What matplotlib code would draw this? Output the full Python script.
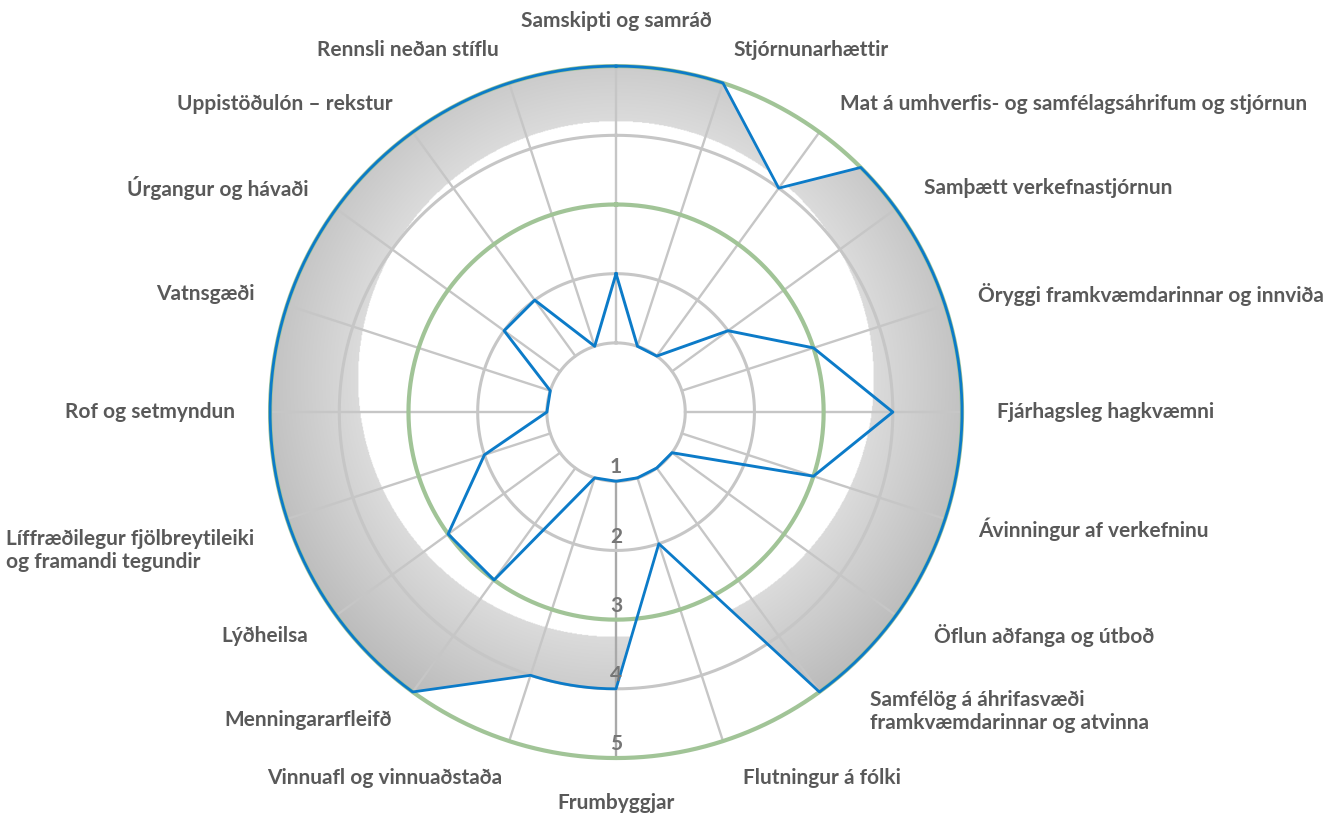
'''
Radar chart of project assessment scores (1-5) with shaded upper band
'''
import numpy as np
import matplotlib
matplotlib.use("Agg")
import matplotlib.pyplot as plt

categories = [
    "Samskipti og samráð",
    "Stjórnunarhættir",
    "Mat á umhverfis- og samfélagsáhrifum og stjórnun",
    "Samþætt verkefnastjórnun",
    "Öryggi framkvæmdarinnar og innviða",
    "Fjárhagsleg hagkvæmni",
    "Ávinningur af verkefninu",
    "Öflun aðfanga og útboð",
    "Samfélög á áhrifasvæði\nframkvæmdarinnar og atvinna",
    "Flutningur á fólki",
    "Frumbyggjar",
    "Vinnuafl og vinnuaðstaða",
    "Menningararfleifð",
    "Lýðheilsa",
    "Líffræðilegur fjölbreytileiki\nog framandi tegundir",
    "Rof og setmyndun",
    "Vatnsgæði",
    "Úrgangur og hávaði",
    "Uppistöðulón – rekstur",
    "Rennsli neðan stíflu",
]

# inner score line, one value per category
scores = [2, 1, 1, 2, 3, 4, 3, 1, 1, 1, 1, 1, 3, 3, 2, 1, 1, 2, 2, 1]

# outer band outline (position in category steps, value)
band_pos = [0, 1, 2, 2.5, 3, 4, 5, 6, 7, 8, 9, 10, 11, 12, 13, 14, 15, 16, 17, 18, 19]
band_vals = [5, 5, 4, 5, 5, 5, 5, 5, 5, 5, 2, 4, 4, 5, 5, 5, 5, 5, 5, 5, 5]

ring_levels = [1, 2, 3, 4, 5]
green_levels = [3, 5]

BLUE = "#0c7bc8"
GREEN = "#a1c497"
GRID = "#c6c6c6"
TEXT = "#595959"

n = len(categories)
step = 2 * np.pi / n
theta = np.arange(n) * step

fig = plt.figure(figsize=(13.25, 8.15), dpi=100)
ax = fig.add_axes([0.2038, 0.0699, 0.5223, 0.849], projection="polar")
ax.set_theta_zero_location("N")
ax.set_theta_direction(-1)
ax.set_autoscale_on(False)
ax.set_ylim(0, 5)
ax.grid(False)
ax.set_xticks([])
ax.set_yticks([])
ax.spines["polar"].set_visible(False)
ax.patch.set_visible(False)

# outline of the band: runs at the same value follow the ring (arc),
# changes of value are straight segments
band_theta = np.array(band_pos) * step
pts = list(zip(band_theta, band_vals)) + [(band_theta[0] + 2 * np.pi, band_vals[0])]
out_t, out_r = [], []
for (t0, r0), (t1, r1) in zip(pts[:-1], pts[1:]):
    ts = np.linspace(t0, t1, 20)[:-1] if r0 == r1 else [t0]
    out_t.extend(ts)
    out_r.extend([r0] * len(ts))
out_t.append(out_t[0])
out_r.append(out_r[0])

# shaded band: radial grey gradient, clipped to the outline
band_patch = ax.fill(out_t, out_r, facecolor="none", edgecolor="none")[0]
verts = band_patch.get_transform().transform(band_patch.get_path().vertices)
verts = ax.transAxes.inverted().transform(verts)
cx = (verts[:, 0].min() + verts[:, 0].max()) / 2
cy = (verts[:, 1].min() + verts[:, 1].max()) / 2
gx, gy = np.meshgrid(np.linspace(0, 1, 900), np.linspace(0, 1, 900))
d = np.hypot(gx - cx, gy - cy)
inner = 0.373
t = np.clip((d - inner) / (0.56 - inner), 0, 1)
g = (219 - t * 36) / 255.0
rgba = np.dstack([g, g, g, (d >= inner).astype(float)])
im = ax.imshow(rgba, extent=(0, 1, 0, 1), transform=ax.transAxes, origin="lower",
               interpolation="bilinear", zorder=0.5)
im.set_clip_path(band_patch)
ax.set_ylim(0, 5)
ax.set_xlim(0, 2 * np.pi)

# spokes
for i, th in enumerate(theta):
    col = "#a9a9a9" if i == n // 2 else GRID
    ax.plot([th, th], [1, 5], color=col, lw=1.7, zorder=1, clip_on=False)

# rings
circ = np.linspace(0, 2 * np.pi, 721)
for lv in ring_levels:
    if lv in green_levels:
        ax.plot(circ, np.full_like(circ, lv), color=GREEN, lw=3.0, zorder=1.5, clip_on=False)
    else:
        ax.plot(circ, np.full_like(circ, lv), color=GRID, lw=2.2, zorder=1.2, clip_on=False)

# data lines
ax.plot(np.append(theta, theta[0]), scores + scores[:1], color=BLUE, lw=2.1,
        zorder=3, clip_on=False)
ax.plot(out_t, out_r, color=BLUE, lw=2.0, zorder=3, clip_on=False)

# radial scale numbers along the bottom spoke
for lv in ring_levels:
    ax.text(np.pi, lv - 0.2, str(lv), ha="center", va="center", fontsize=15,
            family="Lato", weight="bold", color="#767676", zorder=4)

# category labels
nudge = {7: (7, 0), 8: (22, 6), 9: (7, -3), 11: (3, -3), 14: (0, -15)}
for i, (th, lab) in enumerate(zip(theta, categories)):
    s, c = np.sin(th), np.cos(th)
    ha = "left" if s > 0.01 else ("right" if s < -0.01 else "center")
    va = "bottom" if c > 0.99 else ("top" if c < -0.99 else "center")
    dx, dy = nudge.get(i, (0, 0))
    ax.annotate(lab, xy=(th, 5.5), xytext=(dx, dy), textcoords="offset points",
                ha=ha, va=va, multialignment="left", fontsize=15, family="Lato",
                weight="bold", color=TEXT, annotation_clip=False, linespacing=1.2)

fig.savefig("out.png", dpi=100)
